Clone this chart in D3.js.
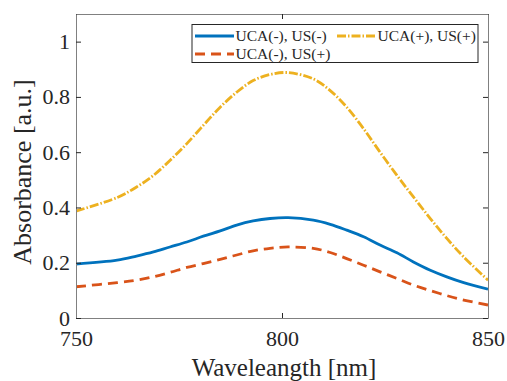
<!DOCTYPE html>
<html>
<head>
<meta charset="utf-8">
<script src="https://cdn.jsdelivr.net/npm/d3@7"></script>
<style>
  body { margin: 0; background: #fff; }
  svg text { font-family: "Liberation Serif", "Times New Roman", serif; fill: #262626; }
</style>
</head>
<body>
<div id="plot"></div>
<script>
// wavelength samples [nm]
var wl = [750, 760, 764.7, 768.8, 772.8, 776.9, 780.9, 785, 789, 793, 797.1, 801.5,
          807.6, 811.7, 815.7, 819.8, 823.8, 827.9, 831.9, 836, 840, 844.1, 850];
// absorbance
var ucaMinusUsMinus = [0.195, 0.209, 0.224, 0.239, 0.257, 0.275, 0.296, 0.315, 0.336, 0.351, 0.360, 0.363,
                       0.354, 0.339, 0.318, 0.294, 0.264, 0.236, 0.203, 0.173, 0.149, 0.128, 0.104];
var ucaMinusUsPlus  = [0.113, 0.128, 0.137, 0.149, 0.165, 0.183, 0.197, 0.212, 0.228, 0.243, 0.252, 0.257,
                       0.252, 0.237, 0.215, 0.191, 0.167, 0.143, 0.119, 0.099, 0.081, 0.065, 0.047];
var ucaPlusUsPlus   = [0.387, 0.436, 0.474, 0.516, 0.570, 0.631, 0.697, 0.763, 0.817, 0.859, 0.881, 0.888,
                       0.865, 0.823, 0.763, 0.685, 0.600, 0.516, 0.438, 0.360, 0.288, 0.221, 0.137];

var xTicks = [750, 800, 850];
var yTicks = [0, 0.2, 0.4, 0.6, 0.8, 1];
var yTickLabels = ['0', '0.2', '0.4', '0.6', '0.8', '1'];

var series = [
  { name: 'UCA(-), US(-)', values: ucaMinusUsMinus, color: '#0072BD', dash: null },
  { name: 'UCA(-), US(+)', values: ucaMinusUsPlus, color: '#D95319', dash: '10,6' },
  { name: 'UCA(+), US(+)', values: ucaPlusUsPlus, color: '#EDB120', dash: '9,2,1.5,2' }
];

var W = 507, H = 381;
var margin = { top: 14, left: 76, right: 19, bottom: 63 };
var iw = W - margin.left - margin.right;
var ih = H - margin.top - margin.bottom;

var svg = d3.select('#plot').append('svg')
  .attr('width', W)
  .attr('height', H);

var x = d3.scaleLinear().domain([750, 850]).range([margin.left, margin.left + iw]);
var y = d3.scaleLinear().domain([0, 1.1]).range([margin.top + ih, margin.top]);

// curves
var line = d3.line()
  .x(function(d) { return x(d[0]); })
  .y(function(d) { return y(d[1]); })
  .curve(d3.curveCatmullRom);

svg.append('defs').append('clipPath').attr('id', 'clip')
  .append('rect').attr('x', margin.left).attr('y', margin.top).attr('width', iw).attr('height', ih);

svg.append('g').attr('clip-path', 'url(#clip)')
  .selectAll('path')
  .data(series)
  .enter().append('path')
    .attr('d', function(s) { return line(wl.map(function(w, i) { return [w, s.values[i]]; })); })
    .attr('fill', 'none')
    .attr('stroke', function(s) { return s.color; })
    .attr('stroke-width', 2.8)
    .attr('stroke-dasharray', function(s) { return s.dash; });

// axes (box with inward ticks on all four sides)
var tickLen = 5;
var axisColor = '#808080';

var xBottom = d3.axisBottom(x).tickValues(xTicks).tickSizeInner(-tickLen).tickSizeOuter(0).tickPadding(12);
var gx = svg.append('g').attr('transform', 'translate(0,' + (margin.top + ih) + ')').call(xBottom);

var xTop = d3.axisTop(x).tickValues(xTicks).tickSizeInner(-tickLen).tickSizeOuter(0).tickFormat('');
svg.append('g').attr('transform', 'translate(0,' + margin.top + ')').call(xTop);

var yLeft = d3.axisLeft(y).tickValues(yTicks).tickSizeInner(-tickLen).tickSizeOuter(0).tickPadding(6)
  .tickFormat(function(d, i) { return yTickLabels[i]; });
var gy = svg.append('g').attr('transform', 'translate(' + margin.left + ',0)').call(yLeft);

var yRight = d3.axisRight(y).tickValues(yTicks).tickSizeInner(-tickLen).tickSizeOuter(0).tickFormat('');
svg.append('g').attr('transform', 'translate(' + (margin.left + iw) + ',0)').call(yRight);

svg.selectAll('.domain').attr('stroke', axisColor);
svg.selectAll('.tick line').attr('stroke', '#262626');
svg.selectAll('.tick text')
  .attr('fill', '#262626')
  .attr('font-size', 22)
  .style('font-family', '"Liberation Serif", serif');

// axis titles
svg.append('text')
  .attr('x', 284)
  .attr('y', 376)
  .attr('text-anchor', 'middle')
  .attr('font-size', 25)
  .text('Waveleangth [nm]');

svg.append('text')
  .attr('transform', 'translate(31,172) rotate(-90)')
  .attr('text-anchor', 'middle')
  .attr('font-size', 26)
  .text('Absorbance [a.u.]');

// legend
var legend = svg.append('g').attr('class', 'legend');
legend.append('rect')
  .attr('x', 192).attr('y', 24.5)
  .attr('width', 286).attr('height', 38)
  .attr('fill', '#fff')
  .attr('stroke', '#262626')
  .attr('stroke-width', 1);

var legendPos = [
  { lx: 195, ty: 36 },   // UCA(-), US(-)
  { lx: 195, ty: 54 },   // UCA(-), US(+)
  { lx: 337, ty: 36 }    // UCA(+), US(+)
];

series.forEach(function(s, i) {
  var p = legendPos[i];
  legend.append('line')
    .attr('x1', p.lx).attr('x2', p.lx + 39)
    .attr('y1', p.ty).attr('y2', p.ty)
    .attr('stroke', s.color)
    .attr('stroke-width', 2.8)
    .attr('stroke-dasharray', s.dash);
  legend.append('text')
    .attr('x', p.lx + 40.5)
    .attr('y', p.ty + 5)
    .attr('font-size', 15.5)
    .text(s.name);
});
</script>
</body>
</html>
